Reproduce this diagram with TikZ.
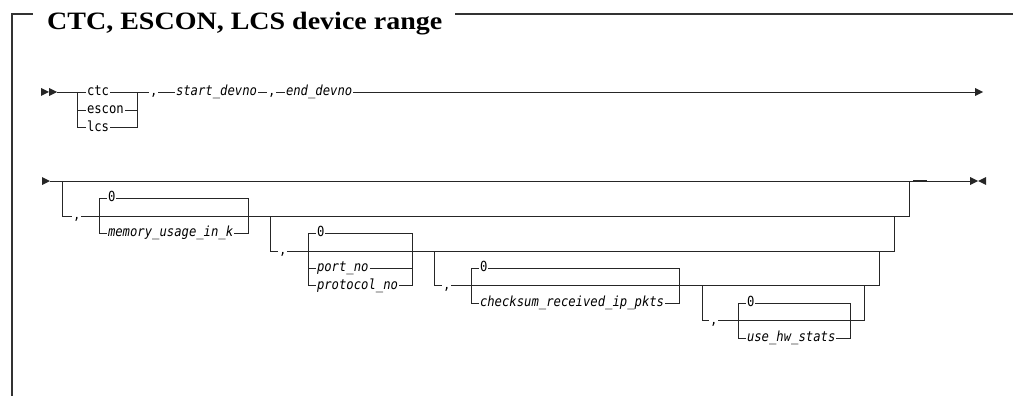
\documentclass[tikz,border=0pt]{standalone}
\usepackage{fontspec}
\newfontfamily\mono{DejaVu Sans Mono}[FakeStretch=0.88]
\newfontfamily\titlefont{Liberation Serif}
\begin{document}
\begin{tikzpicture}[x=1pt,y=-1pt,
  rr/.style={line width=0.9pt, draw=black!85},
  frame/.style={line width=1.2pt, draw=black!80},
  lb/.style={font=\mono\fontsize{13.9}{16}\selectfont, inner xsep=0.8pt, inner ysep=1pt,
             text height=7.6pt, text depth=0pt, anchor=west},
  vr/.style={lb, font=\mono\itshape\fontsize{13.9}{16}\selectfont},
  tip/.style={fill=black!85}]
\useasboundingbox (0,0) rectangle (1013,396);
% frame and title
\node[anchor=base west, inner sep=0] (title) at (47,29.5) {\scalebox{1.12}[1]{\titlefont\bfseries\fontsize{25}{29}\selectfont CTC, ESCON, LCS device range}};
\coordinate (fTL) at (12,14); \coordinate (fBL) at (12,396);
\coordinate (fT1) at (33,14); \coordinate (fT2) at (455,14); \coordinate (fTR) at (1013,14);
\draw[frame] (fBL) -- (fTL) -- (fT1);
\draw[frame] (fT2) -- (fTR);
% ---------- row 1 ----------
\fill[tip] (41,88) -- (49,92) -- (41,96) -- cycle;
\fill[tip] (49,88) -- (57,92) -- (49,96) -- cycle;
\coordinate (s1) at (57,92);
\coordinate (b1l) at (77,92); \coordinate (b1r) at (137,92);
\node[lb] (ctc) at (86,92) {ctc};
\node[lb] (escon) at (86,110) {escon};
\node[lb] (lcs) at (86,127.5) {lcs};
\draw[rr] (s1) -- (ctc.west);
\draw[rr] (ctc.east) -- (b1r);
\draw[rr] (b1l) |- (lcs.west);
\draw[rr] (b1l |- escon.west) -- (escon.west);
\draw[rr] (escon.east) -- (b1r |- escon.east);
\draw[rr] (lcs.east) -| (b1r);
\node[lb] (c1) at (149,92) {,};
\node[vr] (sd) at (175,92) {start\_devno};
\node[lb] (c2) at (267,92) {,};
\node[vr] (ed) at (285,92) {end\_devno};
\coordinate (e1) at (975,92);
\draw[rr] (b1r) -- (c1.west);
\draw[rr] (c1.east) -- (sd.west);
\draw[rr] (sd.east) -- (c2.west);
\draw[rr] (c2.east) -- (ed.west);
\draw[rr] (ed.east) -- (e1);
\fill[tip] (975,88) -- (983,92) -- (975,96) -- cycle;
% ---------- row 2 ----------
\fill[tip] (42,177) -- (50,181) -- (42,185) -- cycle;
\coordinate (s2) at (50,181); \coordinate (e2) at (970,181);
\draw[rr] (s2) -- (e2);
\draw[line width=1.6pt, draw=black!85] (913,181) -- (927,181);
\fill[tip] (970,177) -- (978,181) -- (970,185) -- cycle;
\fill[tip] (986,177) -- (978,181) -- (986,185) -- cycle;
% level 1
\coordinate (a1) at (62,181); \coordinate (a1b) at (62,216);
\coordinate (z1) at (909,181); \coordinate (z1b) at (909,216);
\node[lb] (k1) at (72,216) {,};
\draw[rr] (a1) -- (a1b) -- (k1.west);
\draw[rr] (k1.east) -- (z1b) -- (z1);
\coordinate (m0l) at (99,198); \coordinate (m0r) at (248,198);
\node[lb] (d1) at (107,198) {0};
\node[vr] (mem) at (107,233) {memory\_usage\_in\_k};
\draw[rr] (mem.west) -| (m0l) -- (d1.west);
\draw[rr] (d1.east) -- (m0r) |- (mem.east);
% level 2
\coordinate (a2) at (270,216); \coordinate (a2b) at (270,251);
\coordinate (z2) at (894,216); \coordinate (z2b) at (894,251);
\node[lb] (k2) at (278,251) {,};
\draw[rr] (a2) -- (a2b) -- (k2.west);
\draw[rr] (k2.east) -- (z2b) -- (z2);
\coordinate (p0l) at (308,233); \coordinate (p0r) at (412,233);
\node[lb] (d2) at (316,233) {0};
\node[vr] (port) at (316,268) {port\_no};
\node[vr] (proto) at (316,285.5) {protocol\_no};
\draw[rr] (proto.west) -| (p0l) -- (d2.west);
\draw[rr] (d2.east) -- (p0r) |- (proto.east);
\draw[rr] (p0l |- port.west) -- (port.west);
\draw[rr] (port.east) -- (p0r |- port.east);
% level 3
\coordinate (a3) at (434,251); \coordinate (a3b) at (434,285.5);
\coordinate (z3) at (879,251); \coordinate (z3b) at (879,285.5);
\node[lb] (k3) at (442,285.5) {,};
\draw[rr] (a3) -- (a3b) -- (k3.west);
\draw[rr] (k3.east) -- (z3b) -- (z3);
\coordinate (q0l) at (471,268); \coordinate (q0r) at (679,268);
\node[lb] (d3) at (479,268) {0};
\node[vr] (cks) at (479,303) {checksum\_received\_ip\_pkts};
\draw[rr] (cks.west) -| (q0l) -- (d3.west);
\draw[rr] (d3.east) -- (q0r) |- (cks.east);
% level 4
\coordinate (a4) at (702,285.5); \coordinate (a4b) at (702,320.5);
\coordinate (z4) at (864,285.5); \coordinate (z4b) at (864,320.5);
\node[lb] (k4) at (709,320.5) {,};
\draw[rr] (a4) -- (a4b) -- (k4.west);
\draw[rr] (k4.east) -- (z4b) -- (z4);
\coordinate (h0l) at (738,303); \coordinate (h0r) at (850,303);
\node[lb] (d4) at (746,303) {0};
\node[vr] (hw) at (746,338) {use\_hw\_stats};
\draw[rr] (hw.west) -| (h0l) -- (d4.west);
\draw[rr] (d4.east) -- (h0r) |- (hw.east);
\end{tikzpicture}
\end{document}
